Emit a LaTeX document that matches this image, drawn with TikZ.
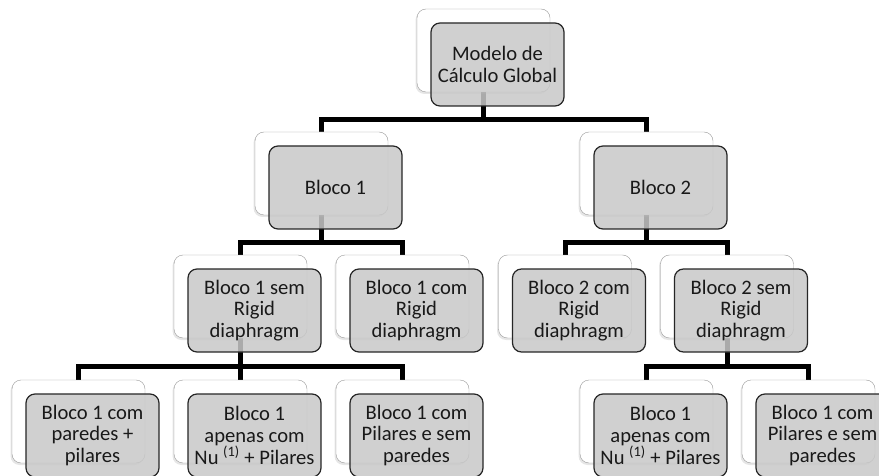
\documentclass[tikz,border=0pt]{standalone}
\usepackage{fontspec}
\setmainfont{Carlito}
\usepackage{tikz}
\usetikzlibrary{shadows}
\definecolor{boxgray}{RGB}{200,200,200}
\pgfdeclarelayer{bg}
\pgfsetlayers{bg,main}

\begin{document}
\begin{tikzpicture}[x=1pt,y=-1pt,
	backbox/.style={draw=black!40, fill=white, rounded corners=9pt, minimum width=133pt, minimum height=83pt, inner sep=0pt, drop shadow={shadow xshift=-1.5pt,shadow yshift=-2pt,opacity=0.2}},
	frontbox/.style={draw=black!85, line width=1.2pt, fill=boxgray, fill opacity=0.85, text opacity=1, rounded corners=9pt, minimum width=133pt, minimum height=83pt, inner sep=0pt, align=center, text=black!90, font=\fontsize{20.6}{21.8}\selectfont},
	link/.style={line width=5pt, line join=miter}]
			\useasboundingbox (0,0) rectangle (879,476);
			\node[backbox] (mcb) at (483.5,50.5) {};
			\node[frontbox] (mc) at (497.5,64.5) {Modelo de\\Cálculo Global};
			\node[backbox] (b1b) at (321.5,173.5) {};
			\node[frontbox] (b1) at (335.5,187.5) {Bloco 1};
			\node[backbox] (b2b) at (646.5,173.5) {};
			\node[frontbox] (b2) at (660.5,187.5) {Bloco 2};
			\node[backbox] (b1sb) at (240.5,296.5) {};
			\node[frontbox] (b1s) at (254.5,310.5) {Bloco 1 sem\\Rigid\\diaphragm};
			\node[backbox] (b1cb) at (402.5,296.5) {};
			\node[frontbox] (b1c) at (416.5,310.5) {Bloco 1 com\\Rigid\\diaphragm};
			\node[backbox] (b2cb) at (565,296.5) {};
			\node[frontbox] (b2c) at (579,310.5) {Bloco 2 com\\Rigid\\diaphragm};
			\node[backbox] (b2sb) at (727,296.5) {};
			\node[frontbox] (b2s) at (741,310.5) {Bloco 2 sem\\Rigid\\diaphragm};
			\node[backbox] (ppb) at (78.5,421.5) {};
			\node[frontbox] (pp) at (92.5,435.5) {Bloco 1 com\\paredes +\\pilares};
			\node[backbox] (nub) at (240.5,421.5) {};
			\node[frontbox] (nu) at (254.5,435.5) {Bloco 1\\apenas com\\Nu \textsuperscript{(1)} + Pilares};
			\node[backbox] (psb) at (402.5,421.5) {};
			\node[frontbox] (ps) at (416.5,435.5) {Bloco 1 com\\Pilares e sem\\paredes};
			\node[backbox] (nu2b) at (646.5,421.5) {};
			\node[frontbox] (nu2) at (660.5,435.5) {Bloco 1\\apenas com\\Nu \textsuperscript{(1)} + Pilares};
			\node[backbox] (ps2b) at (808.5,421.5) {};
			\node[frontbox] (ps2) at (822.5,435.5) {Bloco 1 com\\Pilares e sem\\paredes};
			\begin{pgfonlayer}{bg}
			\draw[link] (mcb.south) -- ++(0,27) -| (b1b.north);
			\draw[link] (mcb.south) -- ++(0,27) -| (b2b.north);
			\draw[link] (b1b.south) -- ++(0,27) -| (b1sb.north);
			\draw[link] (b1b.south) -- ++(0,27) -| (b1cb.north);
			\draw[link] (b2b.south) -- ++(0,27) -| (b2cb.north);
			\draw[link] (b2b.south) -- ++(0,27) -| (b2sb.north);
			\draw[link] (b1sb.south) -- ++(0,28) -| (ppb.north);
			\draw[link] (b1sb.south) -- ++(0,28) -| (nub.north);
			\draw[link] (b1sb.south) -- ++(0,28) -| (psb.north);
			\draw[link] (b2sb.south) -- ++(0,28) -| (nu2b.north);
			\draw[link] (b2sb.south) -- ++(0,28) -| (ps2b.north);
			\end{pgfonlayer}
		\end{tikzpicture}
\end{document}
